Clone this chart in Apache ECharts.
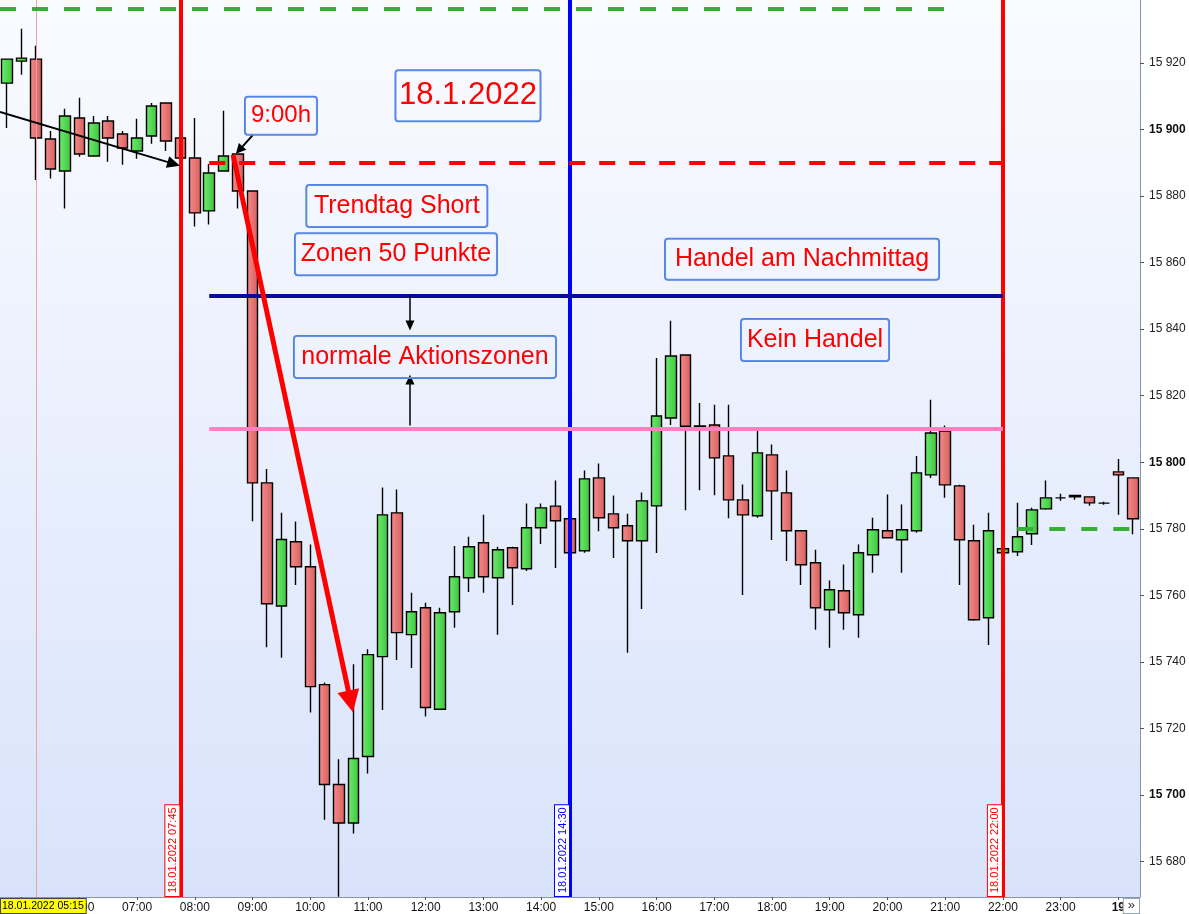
<!DOCTYPE html>
<html><head><meta charset="utf-8">
<script src="https://cdn.jsdelivr.net/npm/echarts@6/dist/echarts.min.js"></script>
<style>html,body{margin:0;padding:0;background:#fff}#c{width:1189px;height:914px}</style>
</head><body><div id="c"></div>
<script>
// 15-minute candles, 18.01.2022 04:45 .. 19.01.2022 00:15
const times = [
'04:45','05:00','05:15','05:30','05:45',
'06:00','06:15','06:30','06:45',
'07:00','07:15','07:30','07:45',
'08:00','08:15','08:30','08:45',
'09:00','09:15','09:30','09:45',
'10:00','10:15','10:30','10:45',
'11:00','11:15','11:30','11:45',
'12:00','12:15','12:30','12:45',
'13:00','13:15','13:30','13:45',
'14:00','14:15','14:30','14:45',
'15:00','15:15','15:30','15:45',
'16:00','16:15','16:30','16:45',
'17:00','17:15','17:30','17:45',
'18:00','18:15','18:30','18:45',
'19:00','19:15','19:30','19:45',
'20:00','20:15','20:30','20:45',
'21:00','21:15','21:30','21:45',
'22:00','22:15','22:30','22:45',
'23:00','23:15','23:30','23:45',
'00:00','00:15'];

const open = [
15913.9,15920.5,15921.1,15897.1,15887.5,
15903.4,15892.0,15902.5,15898.6,
15893.5,15898.0,15907.9,15897.4,
15891.4,15875.5,15887.5,15892.6,
15881.5,15793.8,15756.8,15776.1,
15768.6,15733.2,15703.2,15691.6,
15711.6,15741.6,15784.8,15748.2,
15756.3,15725.8,15755.1,15765.3,
15775.8,15765.3,15774.3,15768.0,
15780.3,15786.8,15783.0,15773.4,
15795.3,15784.5,15780.9,15776.4,
15786.9,15813.3,15832.2,15810.9,
15811.2,15801.9,15788.7,15783.9,
15802.2,15790.8,15779.4,15769.8,
15755.7,15761.4,15754.2,15772.2,
15779.4,15776.7,15779.4,15796.2,
15809.4,15792.9,15776.4,15753.3,
15772.8,15773.1,15778.5,15786.0,
15789.3,15790.0,15789.6,15787.7,
15797.1,15795.3];

const close = [
15921.1,15921.4,15897.4,15888.1,15904.0,
15892.6,15901.9,15897.4,15894.4,
15897.4,15907.0,15896.5,15891.4,
15874.9,15886.9,15892.0,15881.5,
15793.8,15757.5,15776.8,15768.6,
15732.6,15703.2,15691.6,15711.0,
15742.2,15784.2,15748.8,15755.1,
15726.3,15754.8,15765.6,15774.6,
15765.6,15773.7,15768.3,15780.3,
15786.3,15782.4,15772.8,15795.0,
15783.3,15780.3,15776.4,15788.4,
15813.9,15831.9,15810.8,15810.6,
15801.3,15788.7,15784.2,15802.8,
15791.4,15779.4,15769.2,15756.3,
15761.7,15754.8,15772.8,15779.7,
15777.3,15779.7,15796.8,15808.8,
15793.2,15776.7,15752.7,15779.4,
15774.0,15777.6,15785.7,15789.3,
15789.3,15789.6,15787.8,15787.7,
15796.2,15783.0];

const low = [
15900.4,15916.4,15884.8,15885.2,15876.2,
15891.8,15892.0,15890.3,15889.4,
15891.2,15895.7,15893.5,15890.8,
15870.8,15871.4,15887.5,15876.2,
15782.3,15744.4,15741.3,15763.1,
15724.8,15692.6,15669.5,15688.5,
15706.5,15725.6,15740.6,15738.2,
15723.6,15725.8,15750.3,15761.0,
15760.8,15748.2,15757.1,15767.3,
15775.4,15768.2,15772.5,15772.8,
15779.3,15771.2,15742.8,15755.9,
15772.7,15811.2,15785.6,15791.6,
15790.1,15783.2,15760.1,15783.3,
15776.6,15770.3,15763.1,15749.7,
15744.3,15749.7,15747.3,15766.8,
15777.3,15766.8,15778.8,15795.3,
15789.3,15763.1,15752.4,15745.1,
15772.8,15771.8,15775.1,15785.7,
15788.4,15788.7,15786.9,15787.2,
15784.2,15778.4];

const high = [
15921.1,15930.2,15925.1,15899.5,15906.2,
15909.5,15904.0,15904.0,15899.5,
15903.2,15907.9,15907.9,15898.0,
15903.4,15889.6,15905.6,15892.6,
15881.5,15798.0,15784.8,15782.2,
15775.3,15733.8,15710.8,15739.3,
15743.8,15792.4,15791.8,15760.8,
15757.8,15756.3,15774.8,15777.6,
15784.2,15774.6,15774.6,15787.6,
15787.6,15794.5,15783.5,15797.5,
15799.6,15790.0,15784.5,15790.9,
15831.3,15842.5,15832.2,15817.8,
15817.3,15817.3,15793.3,15809.5,
15805.3,15797.5,15779.4,15773.7,
15764.5,15769.3,15775.3,15783.3,
15790.3,15787.3,15801.9,15818.8,
15811.0,15793.2,15781.2,15784.8,
15774.0,15787.8,15786.3,15794.5,
15790.5,15790.2,15789.6,15788.1,
15801.0,15795.3];

const yTicks = [15680,15700,15720,15740,15760,15780,15800,15820,15840,15860,15880,15900,15920];
const boldTicks = [15700,15800,15900];
const Y_MIN = 15669.39, Y_MAX = 15938.86;

// levels
const lvlTopGreen = 15936.2, lvlRed = 15890, lvlNavy = 15850, lvlPink = 15810, lvlGreenLate = 15780;

const FONT = '"Liberation Sans", Arial, sans-serif';
const G = echarts.graphic;
const chart = echarts.init(document.getElementById('c'));
const candleData = times.map((t, i) => [open[i], close[i], low[i], high[i]]);

const greenFill = new G.LinearGradient(0,0,1,0,[{offset:0,color:'#6ded6d'},{offset:1,color:'#3ec43e'}]);
const redFill = new G.LinearGradient(0,0,1,0,[{offset:0,color:'#f68c8c'},{offset:1,color:'#d65e5e'}]);

function fmtY(v){
  const r = Math.round(v); const s = String(r);
  const t = s.slice(0,-3) + ' ' + s.slice(-3);
  return boldTicks.indexOf(r) >= 0 ? '{b|' + t + '}' : t;
}
function vLabel(txt, col){
  return {show:true, position:'insideStartTop', formatter:txt, color:col, fontSize:11, fontFamily:FONT,
    backgroundColor:'#ffffff', borderColor:col, borderWidth:1, padding:[2,2,1,3], distance:1};
}
function hLine(x1, x2, y, color, type){
  return [{coord:[x1, y], lineStyle:{color:color, width:4, type:type, cap:'butt'}, symbol:'none'},
          {coord:[x2, y], symbol:'none'}];
}
function arrow(x1,y1,x2,y2,color,width,size){
  return [{coord:[x1,y1], lineStyle:{color:color, width:width, type:'solid'}, symbol:'none'},
          {coord:[x2,y2], symbol:'triangle', symbolSize:size}];
}
function box(x, y, txt, w, h, fs){
  return {coord:[x, y], label:{show:true, position:'inside', formatter:txt, color:'#ff0000', fontSize:fs, fontFamily:FONT,
    width:w-2, height:h-2, lineHeight:h-2, align:'center', verticalAlign:'middle',
    borderColor:'#4f82e2', borderWidth:1, borderRadius:3, padding:0, backgroundColor:'rgba(255,255,255,0.12)'}};
}

const option = {
  animation:false,
  backgroundColor:'#ffffff',
  grid:{left:0, right:49, top:0, bottom:16, show:true, borderWidth:0,
    backgroundColor:new G.LinearGradient(0,0,0,1,[{offset:0,color:'#fafbff'},{offset:1,color:'#d8e3fb'}])},
  xAxis:[{
    type:'category', data:times, boundaryGap:true,
    axisLine:{show:true, onZero:false, lineStyle:{color:'#8796a6', width:1}},
    axisTick:{show:true, alignWithLabel:true, length:3, interval:(i,v)=>v.slice(3)==='00', lineStyle:{color:'#555'}},
    axisLabel:{show:true, interval:(i,v)=>v.slice(3)==='00', margin:5, fontSize:12, color:'#111', fontFamily:FONT,
      formatter:v=> v==='00:00' ? '{b|19}' : v, rich:{b:{fontWeight:'bold', fontSize:12, color:'#111', fontFamily:FONT}}},
    splitLine:{show:false}
  },{
    type:'value', min:-0.5, max:78.5, show:false, axisLine:{onZero:false}
  }],
  yAxis:{
    type:'value', position:'right', min:Y_MIN, max:Y_MAX, splitNumber:13,
    axisLine:{show:true, onZero:false, lineStyle:{color:'#8796a6', width:1}},
    axisTick:{show:true, length:4, customValues:yTicks, lineStyle:{color:'#555'}},
    axisLabel:{show:true, customValues:yTicks, margin:9, fontSize:12, color:'#222', fontFamily:FONT,
      formatter:fmtY, rich:{b:{fontWeight:'bold', fontSize:12, color:'#111', fontFamily:FONT}}},
    splitLine:{show:false}
  },
  series:[{
    type:'candlestick', xAxisIndex:0, yAxisIndex:0, data:candleData, barWidth:11,
    itemStyle:{color:greenFill, color0:redFill, borderColor:'#000', borderColor0:'#000', borderColorDoji:'#000', borderWidth:1.4},
    emphasis:{disabled:true},
    markLine:{
      silent:true, symbol:['none','none'], animation:false,
      data:[
        {xAxis:'05:15', lineStyle:{color:'#f0a2a2', width:1, type:'solid'}, label:{show:false}},
        {xAxis:'07:45', lineStyle:{color:'#ff0000', width:4, type:'solid'}, label:vLabel('18.01.2022 07:45','#ff0000')},
        {xAxis:'14:30', lineStyle:{color:'#0000ff', width:4, type:'solid'}, label:vLabel('18.01.2022 14:30','#0000ff')},
        {xAxis:'22:00', lineStyle:{color:'#ff0000', width:4, type:'solid'}, label:vLabel('18.01.2022 22:00','#ff0000')}
      ]
    }
  },{
    type:'line', xAxisIndex:1, yAxisIndex:0, data:[], silent:true,
    markLine:{
      silent:true, symbol:['none','none'], animation:false, label:{show:false},
      data:[
        hLine(-0.5, 65.0, lvlTopGreen, '#35b035', [16,16]),
        hLine(14.0, 69.0, lvlRed, '#ff0000', [16,14]),
        hLine(14.0, 69.0, lvlNavy, '#0a0a9a', 'solid'),
        hLine(14.0, 69.0, lvlPink, '#ff80c0', 'solid'),
        hLine(70.0, 77.8, lvlGreenLate, '#35b035', [16,16]),
        arrow(-0.5, 15905.25, 11.54, 15889.62, '#000', 2, [12,13]),
        arrow(17.03, 15898.35, 16.08, 15893.76, '#000', 2, [10,10]),
        arrow(15.65, 15892.35, 23.80, 15728.15, '#ff0000', 5, [22,22]),
        arrow(27.91, 15850.04, 27.91, 15841.04, '#000', 1.5, [9,10]),
        arrow(27.91, 15811.03, 27.91, 15824.83, '#000', 1.5, [9,10])
      ]
    },
    markPoint:{
      silent:true, symbol:'rect', symbolSize:1, itemStyle:{color:'transparent'}, animation:false,
      data:[
        box(31.93, 15910.11, '18.1.2022', 147, 53, 31),
        box(18.97, 15904.05, '9:00h', 74, 40, 24),
        box(27.00, 15876.95, 'Trendtag Short', 183, 44, 25),
        box(26.94, 15862.49, 'Zonen 50 Punkte', 204, 44, 25),
        box(55.08, 15860.99, 'Handel am Nachmittag', 276, 43, 25),
        box(28.95, 15831.58, 'normale Aktionszonen', 264, 44, 25),
        box(55.98, 15836.74, 'Kein Handel', 150, 44, 25)
      ]
    }
  }],
  graphic:[
    {type:'text', left:0, bottom:0, z:100, style:{text:'18.01.2022 05:15', font:'10.5px "Liberation Sans", Arial, sans-serif', fill:'#000',
      backgroundColor:'#ffff00', borderColor:'#444', borderWidth:1, padding:[2,2,1,1]}},
    {type:'text', right:49, bottom:0, z:100, style:{text:'»', font:'13px "Liberation Sans", Arial, sans-serif', fill:'#333',
      backgroundColor:'#ffffff', borderColor:'#9aa4ae', borderWidth:1, padding:[0,4,1,4]}}
  ]
};
chart.setOption(option);
</script></body></html>
